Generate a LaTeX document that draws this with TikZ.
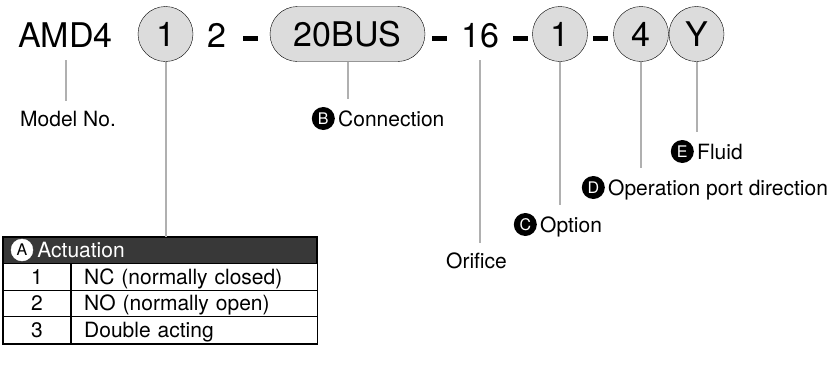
\documentclass[tikz,border=0pt]{standalone}
\usepackage{fontspec}
\setmainfont{TeX Gyre Heros}
\usepackage{xcolor}
\usepackage{tikz}
\usetikzlibrary{positioning,shapes.misc}

\definecolor{pillgray}{HTML}{DCDCDC}
\definecolor{leadgray}{HTML}{B0B0B0}
\definecolor{hdrgray}{HTML}{383838}

\tikzset{
  code/.style={inner sep=0pt, font=\fontsize{34}{34}\selectfont, text height=24.5pt, text depth=0pt},
  pill/.style={code, circle, draw, thin, fill=pillgray, minimum size=55pt},
  longpill/.style={code, rounded rectangle, draw, thin, fill=pillgray, minimum width=155pt, minimum height=55pt},
  dashbar/.style={fill=black, minimum width=15pt, minimum height=5pt, inner sep=0pt},
  lbl/.style={inner sep=0pt, font=\fontsize{21}{25}\selectfont, text height=15pt, text depth=0pt},
  badge/.style={circle, fill=black, text=white, inner sep=0pt, minimum size=23pt, font=\fontsize{16}{16}\selectfont},
  lead/.style={draw=leadgray, line width=2pt},
  cell/.style={lbl, draw, line width=0.8pt, minimum height=26.7pt, anchor=north west},
}

\begin{document}
\begin{tikzpicture}[x=1pt,y=1pt]
    \useasboundingbox (0,0) rectangle (832,-378);

    % code row
    \node[code] (amd) at (65.5,-35.5) {AMD4};
    \node[pill] (c1) at (165.5,-34) {1};
    \node[code] (n2) at (217,-35.5) {2};
    \node[dashbar] (d1) at (250.5,-38) {};
    \node[longpill] (bus) at (347.5,-34) {20BUS};
    \node[dashbar] (d2) at (439.5,-38) {};
    \node[code] (n16) at (480,-35.5) {16};
    \node[dashbar] (d3) at (520.5,-38) {};
    \node[pill] (c2) at (560,-34) {1};
    \node[dashbar] (d4) at (600.5,-38) {};
    \node[pill] (c3) at (641,-34) {4};
    \node[pill] (c4) at (696.5,-34) {Y};

    % labels
    \node[lbl, anchor=base west] (model) at (20,-126) {Model No.};
    \node[lbl, anchor=base west] (tB) at (338,-126) {Connection};
    \node[badge, left=3pt of tB] (bB) {B};
    \node[lbl, anchor=base west] (orif) at (446,-268) {Orifice};
    \node[lbl, anchor=base west] (tC) at (540,-232) {Option};
    \node[badge, left=3pt of tC] (bC) {C};
    \node[lbl, anchor=base west] (tD) at (608,-195) {Operation port direction};
    \node[badge, left=3pt of tD] (bD) {D};
    \node[lbl, anchor=base west] (tE) at (697,-159) {Fluid};
    \node[badge, left=3pt of tE] (bE) {E};

    % table A
    \node[draw, line width=0.8pt, fill=hdrgray, minimum width=313pt, minimum height=26pt,
      anchor=north west, inner sep=0pt] (hdr) at (3,-237) {};
    \node[badge, fill=white, text=black, draw=white, minimum size=22pt] (bA) at (22,-250) {A};
    \node[lbl, text=white, right=4pt of bA] (tA) {Actuation};
    \foreach \k/\v [count=\i] in {1/NC (normally closed), 2/NO (normally open), 3/Double acting}{
      \node[cell, minimum width=67pt, inner sep=0pt] (k\i) at (3,{-263-(\i-1)*26.7}) {\k};
      \node[cell, text width=220pt, align=left, inner xsep=13pt, inner ysep=0pt] (v\i) at (k\i.north east) {\v};
    }
    \draw[line width=1.6pt] (hdr.north west) rectangle (v3.south east);

    % leader lines
    \draw[lead, shorten <=12.5pt, shorten >=10pt] (amd.south) -- (amd.south |- model.north);
    \draw[lead] (c1.south) -- (c1.south |- hdr.north);
    \draw[lead, shorten >=7.5pt] (bus.south) -- (bus.south |- bB.north);
    \draw[lead, shorten <=12.5pt, shorten >=9.5pt] (n16.south) -- (n16.south |- orif.north);
    \draw[lead, shorten >=8pt] (c2.south) -- (c2.south |- bC.north);
    \draw[lead, shorten >=8pt] (c3.south) -- (c3.south |- bD.north);
    \draw[lead, shorten >=8pt] (c4.south) -- (c4.south |- bE.north);
\end{tikzpicture}
\end{document}
